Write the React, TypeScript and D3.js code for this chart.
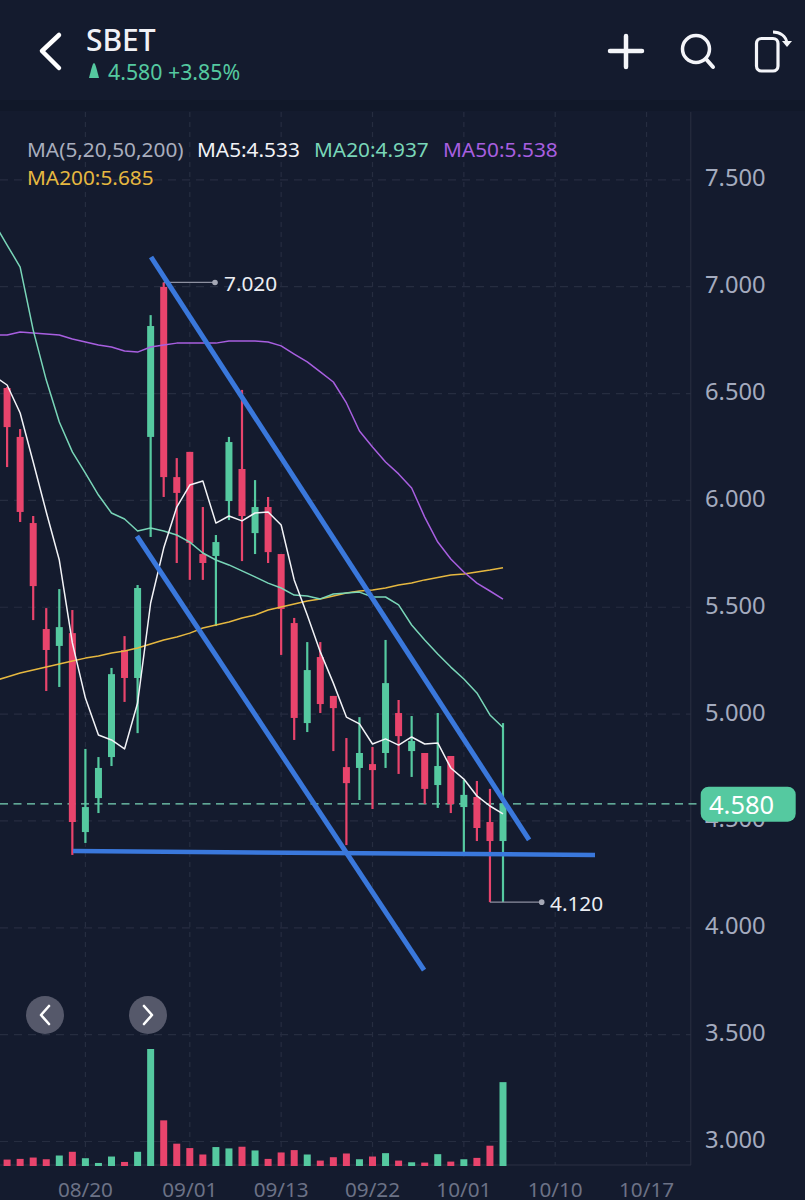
import React from "react";
import * as d3 from "d3";

// Candles: index is trading day
const opens = [6.526,6.297,5.894,5.398,5.319,5.379,4.448,4.607,4.799,5.300,5.169,6.297,6.999,6.109,6.227,5.749,5.740,5.997,6.147,5.847,5.969,5.749,5.426,4.958,5.267,5.085,4.752,4.748,4.766,4.818,5.005,4.827,4.818,4.668,4.804,4.565,4.612,4.495,4.406];
const closes = [6.343,5.946,5.599,5.300,5.407,4.495,4.565,4.748,5.187,5.169,5.590,6.816,6.109,6.035,5.801,5.707,5.805,6.273,5.927,5.969,5.758,5.492,4.982,5.206,5.047,5.028,4.677,4.818,4.738,5.145,4.897,4.874,4.650,4.757,4.579,4.622,4.467,4.406,4.580];
const highs = [6.530,6.334,5.927,5.496,5.585,5.487,4.837,4.799,5.216,5.365,5.604,6.867,7.020,6.198,6.227,5.969,5.838,6.297,6.517,6.095,6.016,5.749,5.450,5.337,5.337,5.085,4.888,4.986,4.846,5.347,5.066,4.991,4.818,5.005,4.804,4.692,4.687,4.650,4.958];
const lows = [6.156,5.899,5.440,5.108,5.127,4.341,4.397,4.537,4.757,5.057,4.911,5.829,6.016,5.707,5.628,5.628,5.412,5.908,5.716,5.749,5.707,5.277,4.879,4.916,5.005,4.827,4.387,4.598,4.556,4.748,4.720,4.706,4.579,4.561,4.537,4.350,4.406,4.120,4.120];
const volumes = [19,21,25,20,31,42,23,9,28,12,42,346,135,66,53,34,56,52,57,46,21,40,47,34,16,26,37,20,28,38,16,11,10,35,13,20,24,60,248];

// Moving averages start one day before the first visible candle
const ma5 = [6.582,6.540,6.409,6.180,5.946,5.721,5.333,5.075,4.902,4.879,4.837,5.052,5.520,5.777,5.969,6.072,6.091,5.894,5.927,5.904,5.941,5.946,5.885,5.628,5.464,5.291,5.145,4.986,4.954,4.860,4.884,4.855,4.893,4.860,4.865,4.748,4.696,4.617,4.570,4.533];
const ma20 = [7.298,7.195,7.092,6.797,6.563,6.367,6.227,6.128,6.025,5.941,5.913,5.857,5.871,5.857,5.838,5.805,5.754,5.721,5.698,5.670,5.642,5.613,5.590,5.557,5.553,5.539,5.562,5.567,5.571,5.548,5.548,5.511,5.417,5.347,5.281,5.220,5.164,5.099,4.996,4.937];
const ma50 = [6.774,6.774,6.788,6.783,6.779,6.774,6.755,6.741,6.727,6.718,6.699,6.694,6.718,6.727,6.736,6.736,6.736,6.736,6.746,6.746,6.746,6.741,6.723,6.685,6.648,6.601,6.554,6.456,6.325,6.250,6.180,6.124,6.058,5.922,5.805,5.726,5.665,5.613,5.576,5.538];
const ma200 = [5.155,5.174,5.192,5.206,5.220,5.234,5.248,5.262,5.272,5.286,5.295,5.309,5.328,5.347,5.361,5.379,5.403,5.417,5.431,5.450,5.464,5.487,5.501,5.515,5.529,5.539,5.553,5.567,5.576,5.581,5.590,5.604,5.613,5.628,5.639,5.651,5.656,5.665,5.674,5.685];

const priceTicks = [7.5,7,6.5,6,5.5,5,4.5,4,3.5,3];
const dateTickIndex = [6,14,21,28,35,42,49];
const dateTickLabels = ["08/20","09/01","09/13","09/22","10/01","10/10","10/17"];

// Hand-drawn trend lines as [day index, price]
const trendUpper = [[11.03,7.139],[40,4.411]];
const trendLower = [[9.95,5.833],[31.95,3.802]];
const trendFloor = [[5.05,4.359],[45.05,4.341]];

const lastPrice = 4.58;
const maxPrice = { i: 12, v: 7.02 };
const minPrice = { i: 37, v: 4.12 };

const BG = "#141b2e";
const GREEN = "#55c9a0";
const RED = "#e8446c";
const BLUE = "#3a78dc";
const GRID = "#262d40";
const FONT = "'Noto Sans', sans-serif";

const x = d3.scaleLinear().domain([0, 38]).range([7.1, 503]);
const y = d3.scaleLinear().domain([7, 3]).range([286.7, 1141.5]);
const vol = d3.scaleLinear().domain([0, 346]).range([1166, 1049]);

const maLine = d3.line<number>().x((_, i) => x(i - 1)).y((d) => y(d));
const trendLine = d3.line<number[]>().x((d) => x(d[0])).y((d) => y(d[1]));

const maSeries = [
  { d: ma200, c: "#e6b840" },
  { d: ma50, c: "#a85fe0" },
  { d: ma20, c: "#79d6b8" },
  { d: ma5, c: "#f2f3f7" },
];

export default function App() {
  return (
    <svg width={805} height={1200} viewBox="0 0 805 1200" style={{ position: "absolute", left: 0, top: 0, display: "block" }} fontFamily={FONT}>
      <defs>
        <clipPath id="plot"><rect x={0} y={112} width={691} height={1054} /></clipPath>
      </defs>
      <rect width={805} height={1200} fill={BG} />
      <rect y={100} width={805} height={11} fill="#111829" />

      {/* header */}
      <path d="M59,35 L42,51 L59,68" fill="none" stroke="#fff" strokeWidth={4.5} strokeLinecap="round" strokeLinejoin="round" />
      <text x={86} y={51} fill="#f0f1f6" fontSize={30} fontWeight={500}>SBET</text>
      <path d="M94,63 C95,63 96,66 99,78 L89,78 C92,66 93,63 94,63 Z" fill={GREEN} />
      <text x={108} y={80} fill={GREEN} fontSize={21.3}>4.580 +3.85%</text>
      <path d="M610,51 L642,51 M626,36 L626,67" stroke="#f4f5f9" strokeWidth={4.5} strokeLinecap="round" />
      <circle cx={696} cy={49} r={13.5} fill="none" stroke="#f4f5f9" strokeWidth={3.5} />
      <path d="M706,59 L713,67" stroke="#f4f5f9" strokeWidth={4} strokeLinecap="round" />
      <rect x={756.5} y={38.5} width={21.5} height={32.5} rx={5} fill="none" stroke="#f4f5f9" strokeWidth={3.2} />
      <path d="M773,32 C780,32 786,36 787,43" fill="none" stroke="#f4f5f9" strokeWidth={2.8} />
      <path d="M782,41 L792,41 L787,47 Z" fill="#f4f5f9" />

      {/* grid */}
      {priceTicks.map((t) => (
        <line key={t} x1={0} x2={691} y1={y(t)} y2={y(t)} stroke={GRID} strokeWidth={1.2} strokeDasharray="8 6" />
      ))}
      {dateTickIndex.map((i) => (
        <line key={i} x1={x(i)} x2={x(i)} y1={112} y2={1165} stroke={GRID} strokeWidth={1.2} strokeDasharray="5 5" />
      ))}
      <line x1={690.8} x2={690.8} y1={112} y2={1165} stroke="#2a3042" />
      <line x1={0} x2={691} y1={1165} y2={1165} stroke="#2a3042" />

      {/* tick labels */}
      {priceTicks.map((t) => (
        <text key={t} x={705} y={y(t) + 6.5} fill="#a4abbe" fontSize={23.7}>{t.toFixed(3)}</text>
      ))}
      {dateTickIndex.map((i, k) => (
        <text key={i} x={x(i)} y={1197} fill="#6c7286" fontSize={20.7} textAnchor="middle">{dateTickLabels[k]}</text>
      ))}

      {/* legend */}
      <text y={157} fontSize={20.8}>
        <tspan x={27} fill="#a9aebe">MA(5,20,50,200)</tspan>
        <tspan x={197} fill="#f2f3f7">MA5:4.533</tspan>
        <tspan x={314} fill="#79d6b8">MA20:4.937</tspan>
        <tspan x={443} fill="#a85fe0">MA50:5.538</tspan>
      </text>
      <text x={27} y={185} fontSize={20.8} fill="#e6b840">MA200:5.685</text>

      {/* last-price line */}
      <line x1={0} x2={700} y1={y(lastPrice)} y2={y(lastPrice)} stroke="#79d6b8" strokeWidth={1.2} strokeDasharray="8 5.5" />

      <g clipPath="url(#plot)">
        {/* volume */}
        {volumes.map((v, i) => (
          <rect key={i} x={x(i) - 3.5} y={vol(v)} width={7} height={vol(0) - vol(v)} fill={closes[i] >= opens[i] ? GREEN : RED} />
        ))}
        {/* candles */}
        {opens.map((o, i) => {
          const c = closes[i];
          const col = c >= o ? GREEN : RED;
          return (
            <g key={i} fill={col}>
              <rect x={x(i) - 1.1} y={y(highs[i])} width={2.2} height={y(lows[i]) - y(highs[i])} />
              <rect x={x(i) - 3.5} y={y(Math.max(o, c))} width={7} height={Math.max(1, Math.abs(y(o) - y(c)))} />
            </g>
          );
        })}
        {/* moving averages */}
        {maSeries.map((s, k) => (
          <path key={k} d={maLine(s.d) || ""} fill="none" stroke={s.c} strokeWidth={1.5} strokeLinejoin="round" />
        ))}
      </g>

      {/* high / low markers */}
      <line x1={x(maxPrice.i)} x2={215} y1={y(maxPrice.v)} y2={y(maxPrice.v)} stroke="#8d90a0" strokeWidth={1.2} />
      <circle cx={215} cy={y(maxPrice.v)} r={2.8} fill="#a5a8b5" />
      <text x={224} y={y(maxPrice.v) + 9} fill="#eceef3" fontSize={20.8}>{maxPrice.v.toFixed(3)}</text>
      <line x1={x(minPrice.i)} x2={541.7} y1={y(minPrice.v)} y2={y(minPrice.v)} stroke="#8d90a0" strokeWidth={1.2} />
      <circle cx={541.7} cy={y(minPrice.v)} r={2.8} fill="#a5a8b5" />
      <text x={550} y={y(minPrice.v) + 9} fill="#eceef3" fontSize={20.8}>{minPrice.v.toFixed(3)}</text>

      {/* trend lines */}
      {[trendUpper, trendLower].map((t, k) => (
        <path key={k} d={trendLine(t) || ""} fill="none" stroke={BLUE} strokeWidth={5} />
      ))}
      <path d={trendLine(trendFloor) || ""} fill="none" stroke={BLUE} strokeWidth={4.5} />

      {/* last-price badge */}
      <rect x={700.7} y={786.7} width={95} height={35} rx={8} fill={GREEN} />
      <text x={709} y={814} fill="#fff" fontSize={25.5}>4.580</text>

      {/* pager buttons */}
      <circle cx={45} cy={1015} r={19} fill="#55586a" />
      <path d="M49,1006 L41,1015 L49,1024" fill="none" stroke="#fff" strokeWidth={2.6} strokeLinecap="round" strokeLinejoin="round" />
      <circle cx={148} cy={1015} r={19} fill="#55586a" />
      <path d="M144,1006 L152,1015 L144,1024" fill="none" stroke="#fff" strokeWidth={2.6} strokeLinecap="round" strokeLinejoin="round" />
    </svg>
  );
}
